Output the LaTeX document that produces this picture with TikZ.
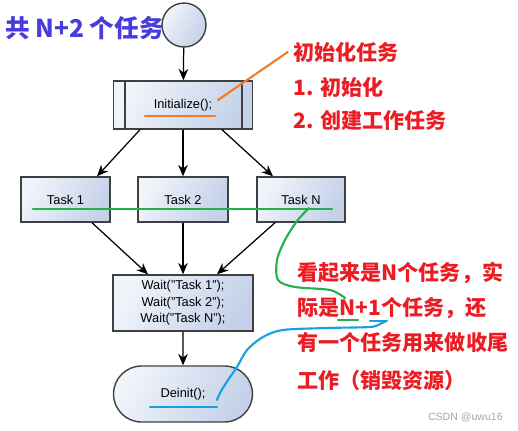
\documentclass[tikz,border=0pt]{standalone}
\usepackage{fontspec}
\setsansfont{Liberation Sans}
\newfontfamily\cjk{Noto Sans CJK SC}
\usetikzlibrary{arrows.meta,shapes.misc}

\definecolor{boxlight}{RGB}{240,244,251}
\definecolor{boxdark}{RGB}{196,209,232}
\definecolor{frame}{RGB}{64,64,64}
\definecolor{notered}{RGB}{236,28,36}
\definecolor{titleblue}{RGB}{72,60,220}
\definecolor{hiorange}{RGB}{242,122,40}
\definecolor{higreen}{RGB}{34,177,76}
\definecolor{hiblue}{RGB}{20,160,226}

\tikzset{
  flowbox/.style={draw=frame, line width=0.8pt, shading=axis, left color=boxlight, right color=boxdark,
    shading angle=60, font=\sffamily\fontsize{7.3}{9.4}\selectfont, align=center, inner sep=0pt},
  flowarrow/.style={-{Stealth[length=6.5pt,width=5.5pt]}, line width=0.7pt},
  note/.style={text=notered, font=\cjk\bfseries\fontsize{12}{14}\selectfont, anchor=west, inner sep=0pt},
  hiline/.style={line width=1.2pt, line cap=round}
}

\begin{document}
\begin{tikzpicture}[x=0.02cm, y=-0.02cm]
\useasboundingbox (0,0) rectangle (518,430);
% flow chart
\node[flowbox, circle, minimum size=0.88cm] (start) at (184,25) {};
\node[flowbox, minimum width=2.78cm, minimum height=0.96cm] (init) at (183,105) {Initialize();};
\draw[frame, line width=0.8pt] ([xshift=0.24cm]init.north west) -- ([xshift=0.24cm]init.south west);
\draw[frame, line width=0.8pt] ([xshift=-0.22cm]init.north east) -- ([xshift=-0.22cm]init.south east);
\node[flowbox, minimum width=1.78cm, minimum height=0.9cm] (t1) at (65.5,199.5) {Task 1};
\node[flowbox, minimum width=1.8cm, minimum height=0.9cm] (t2) at (183,199.5) {Task 2};
\node[flowbox, minimum width=1.76cm, minimum height=0.9cm] (tN) at (301,199.5) {Task N};
\node[flowbox, minimum width=2.8cm, minimum height=1.12cm] (wait) at (183,303)
  {Wait("Task 1");\\Wait("Task 2");\\Wait("Task N");};
\node[flowbox, rounded rectangle, minimum width=2.78cm, minimum height=1.12cm] (deinit) at (183,394) {Deinit();};

\draw[flowarrow] (start) -- (init);
\draw[flowarrow] ([xshift=-0.86cm]init.south) -- ([xshift=0.63cm]t1.north);
\draw[flowarrow] (init) -- (t2);
\draw[flowarrow] ([xshift=0.78cm]init.south) -- ([xshift=-0.56cm]tN.north);
\draw[flowarrow] ([xshift=0.53cm]t1.south) -- ([xshift=-0.7cm]wait.north);
\draw[flowarrow] (t2) -- (wait);
\draw[flowarrow] ([xshift=-0.52cm]tN.south) -- ([xshift=0.68cm]wait.north);
\draw[flowarrow] (wait) -- (deinit);

% notes
\node[text=titleblue, font=\cjk\bfseries\fontsize{14}{16}\selectfont, anchor=west, inner sep=0pt] (title) at (5,28) {共 N+2 个任务};
\node[note] (note1) at (293,52) {初始化任务};
\node[note] (note2) at (293,87) {1. 初始化};
\node[note] (note3) at (293,120) {2. 创建工作任务};
\node[note] (note4) at (297,273) {看起来是N个任务，实};
\node[note] (note5) at (297,308) {际是N+1个任务，还};
\node[note] (note6) at (297,343) {有一个任务用来做收尾};
\node[note] (note7) at (297,380) {工作（销毁资源）};
\node[text=gray!70, font=\sffamily\fontsize{6}{7}\selectfont, anchor=east, inner sep=0pt] (credit) at (503,417) {CSDN @uwu16};

% hand marks
\draw[hiline, hiorange] (145,116) -- (215,116);
\draw[hiline, hiorange] (218,100) -- ([xshift=-3pt]note1.west);
\draw[hiline, higreen] (33,209) -- (332,209);
\draw[hiline, higreen] plot[smooth] coordinates {(309,208) (297,221) (285,240) (277,260) (278,280) (295,287) (330,290) (345,298)};
\draw[hiline, higreen] (338,320) -- (358,320);
\draw[hiline, hiblue] (370,321) -- (387,321);
\draw[hiline, hiblue] plot[smooth] coordinates {(386,321) (380,324) (370,327) (327,328) (283,330) (263,337) (247,350) (237,367) (228,380) (220,393) (217,400)};
\draw[hiline, hiblue] (150,407) -- (217,407);
\end{tikzpicture}
\end{document}
